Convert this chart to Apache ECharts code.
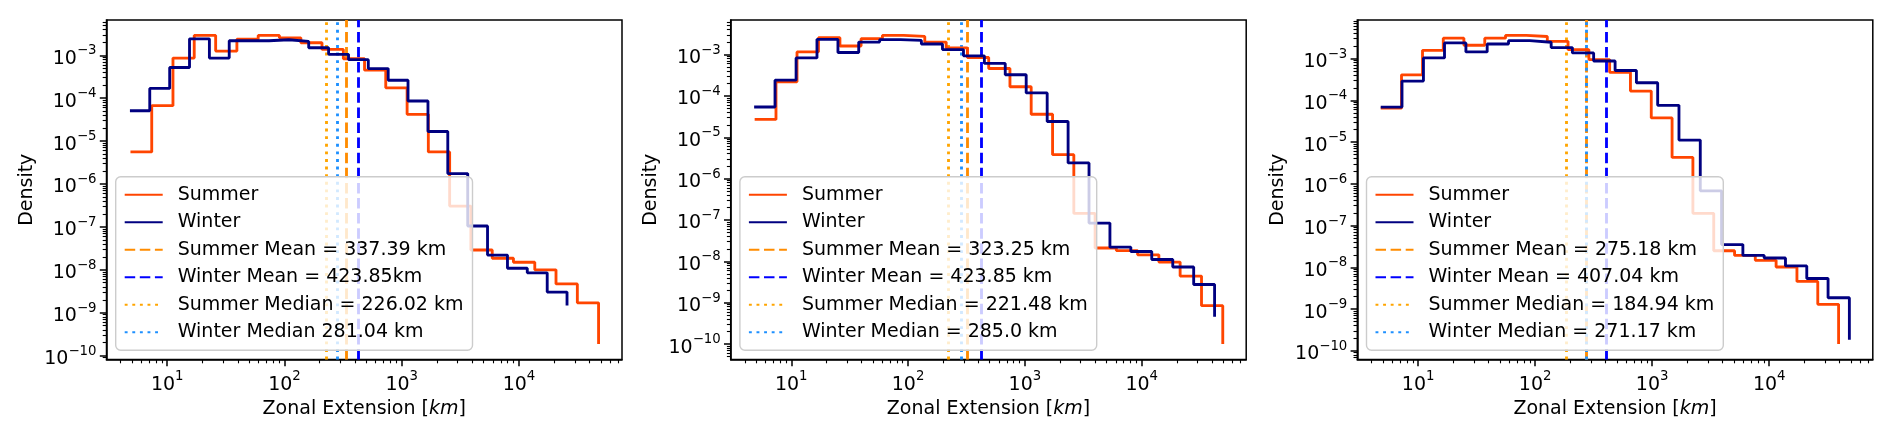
<!DOCTYPE html>
<html>
<head>
<meta charset="utf-8">
<script src="https://cdn.jsdelivr.net/npm/echarts@6/dist/echarts.min.js"></script>
<style>
    html, body { margin: 0; padding: 0; background: #fff; }
    #chart { width: 1892px; height: 438px; }
</style>
</head>
<body>
<div id="chart"></div>
<script>
// bin edges in km, one more than the densities
var p1SummerEdges = [4.86, 7.38, 11.2, 17.0, 25.9, 39.3, 59.7, 90.6, 138, 209, 318, 482, 731, 1112, 1687, 2564, 3890, 5916, 8974, 13646, 20701, 31477, 47753];
var p1WinterEdges = [4.81, 7.10, 10.5, 15.5, 22.9, 33.8, 50.0, 73.8, 109, 161, 238, 352, 519, 767, 1132, 1675, 2472, 3656, 5395, 7980, 11776, 17418, 25704];
var p2SummerEdges = [4.86, 7.40, 11.2, 17.1, 26.1, 39.6, 60.3, 91.6, 139, 212, 322, 490, 745, 1132, 1726, 2624, 3990, 6067, 9226, 14028, 21330, 32509, 49431];
var p2WinterEdges = [4.81, 7.26, 11.0, 16.6, 25.1, 37.8, 57.1, 86.3, 130, 197, 298, 450, 679, 1026, 1552, 2344, 3540, 5346, 8072, 12190, 18450, 27861, 42073];
var p3SummerEdges = [4.79, 7.21, 10.9, 16.4, 24.6, 37.1, 55.8, 84.1, 127, 191, 288, 433, 652, 982, 1479, 2228, 3357, 5058, 7603, 11455, 17258, 26002, 39174];
var p3WinterEdges = [4.79, 7.28, 11.1, 16.8, 25.6, 38.9, 59.2, 89.9, 137, 208, 316, 482, 733, 1114, 1694, 2576, 3917, 5957, 9057, 13772, 20941, 31842, 48417];

// density per bin
var p1SummerDensity = [5.6e-6, 6.7e-5, 8.6e-4, 2.9e-3, 1.25e-3, 2.37e-3, 2.9e-3, 2.55e-3, 1.96e-3, 1.37e-3, 8.3e-4, 4.5e-4, 1.74e-4, 4.2e-5, 5.6e-6, 3.06e-7, 2.9e-8, 1.86e-8, 1.5e-8, 1.0e-8, 4.7e-9, 1.7e-9];
var p1WinterDensity = [5.1e-5, 1.69e-4, 5.2e-4, 2.42e-3, 8.6e-4, 2.18e-3, 2.18e-3, 2.3e-3, 2.1e-3, 1.5e-3, 1.05e-3, 7.9e-4, 4.9e-4, 2.62e-4, 8.6e-5, 1.67e-5, 1.75e-6, 1.05e-7, 2.2e-8, 1.09e-8, 8.5e-9, 3.03e-9];
var p2SummerDensity = [2.7e-5, 2.2e-4, 1.16e-3, 2.56e-3, 1.61e-3, 2.42e-3, 2.9e-3, 2.75e-3, 2.0e-3, 1.45e-3, 8.5e-4, 4.6e-4, 1.67e-4, 3.6e-5, 3.8e-6, 1.44e-7, 2.1e-8, 1.82e-8, 1.44e-8, 9.6e-9, 4.4e-9, 8.5e-10];
var p2WinterDensity = [5.4e-5, 2.4e-4, 8.3e-4, 2.33e-3, 1.12e-3, 2.0e-3, 2.29e-3, 2.2e-3, 1.8e-3, 1.32e-3, 9.3e-4, 6.1e-4, 3.25e-4, 1.18e-4, 2.4e-5, 2.4e-6, 8.4e-8, 2.2e-8, 1.73e-8, 1.11e-8, 7.3e-9, 2.75e-9];
var p3SummerDensity = [6.5e-5, 4.1e-4, 1.58e-3, 3.1e-3, 2.1e-3, 3.1e-3, 3.6e-3, 3.4e-3, 2.6e-3, 1.64e-3, 9.5e-4, 4.7e-4, 1.67e-4, 3.8e-5, 4.3e-6, 1.97e-7, 2.5e-8, 1.93e-8, 1.47e-8, 1.02e-8, 4.6e-9, 1.3e-9];
var p3WinterDensity = [6.9e-5, 2.9e-4, 1.04e-3, 2.38e-3, 1.45e-3, 2.25e-3, 2.7e-3, 2.47e-3, 1.84e-3, 1.37e-3, 8.8e-4, 5.2e-4, 2.65e-4, 7.6e-5, 1.12e-5, 6.8e-7, 3.5e-8, 1.93e-8, 1.67e-8, 1.08e-8, 5.4e-9, 1.87e-9];

// where the outline drops at the last edge
var p1Tails = [1.86e-10, 1.48e-9];
var p2Tails = [1.0e-10, 4.6e-10];
var p3Tails = [1.45e-10, 1.83e-10];

// summer mean, winter mean, summer median, winter median (km)
var p1Stats = [337.39, 423.85, 226.02, 281.04];
var p2Stats = [323.25, 423.85, 221.48, 285.0];
var p3Stats = [275.18, 407.04, 184.94, 271.17];

var p1StatLabels = ['Summer Mean = 337.39 km', 'Winter Mean = 423.85km', 'Summer Median = 226.02 km', 'Winter Median 281.04 km'];
var p2StatLabels = ['Summer Mean = 323.25 km', 'Winter Mean = 423.85 km', 'Summer Median = 221.48 km', 'Winter Median = 285.0 km'];
var p3StatLabels = ['Summer Mean = 275.18 km', 'Winter Mean = 407.04 km', 'Summer Median = 184.94 km', 'Winter Median = 271.17 km'];

var xTicks = [10, 100, 1000, 10000];
var yTicks = [1e-10, 1e-9, 1e-8, 1e-7, 1e-6, 1e-5, 1e-4, 1e-3];

var FONT = 'DejaVu Sans';
var FS = 19;
var LW = 2.85;
var statColors = ['#ff8c00', '#0000ff', '#ffa500', '#1e90ff'];
var statDash = [[10.5, 4.6], [10.5, 4.6], [2.9, 4.7], [2.9, 4.7]];

var panels = [
    { left: 106.5, edges: [p1SummerEdges, p1WinterEdges], dens: [p1SummerDensity, p1WinterDensity], tails: p1Tails, stats: p1Stats, labels: p1StatLabels },
    { left: 730.7, edges: [p2SummerEdges, p2WinterEdges], dens: [p2SummerDensity, p2WinterDensity], tails: p2Tails, stats: p2Stats, labels: p2StatLabels },
    { left: 1357.3, edges: [p3SummerEdges, p3WinterEdges], dens: [p3SummerDensity, p3WinterDensity], tails: p3Tails, stats: p3Stats, labels: p3StatLabels }
];

function minorTicks(major, lo, hi) {
    var out = [];
    var d = major[0] / 10;
    while (d < hi * 10) {
        for (var k = 2; k <= 9; k++) {
            var v = d * k;
            if (v >= lo && v <= hi) out.push(v);
        }
        d *= 10;
    }
    return out;
}

function logLimits(values) {
    var a = Math.log10(Math.min.apply(null, values));
    var b = Math.log10(Math.max.apply(null, values));
    var m = 0.05 * (b - a);
    return [Math.pow(10, a - m), Math.pow(10, b + m)];
}

function powLabel(v) {
    var e = Math.round(Math.log10(v));
    return '{b|10}{e|' + String(e).replace('-', '\u2212') + '}';
}

var labelRich = {
    b: { fontFamily: FONT, fontSize: FS, color: '#000', lineHeight: 26, verticalAlign: 'bottom' },
    e: { fontFamily: FONT, fontSize: 13.3, color: '#000', lineHeight: 14, verticalAlign: 'bottom', padding: [0, 0, 11, 0] }
};

function stepData(edges, dens, tail) {
    var pts = [];
    for (var i = 0; i < dens.length; i++) pts.push([edges[i], dens[i]]);
    pts.push([edges[edges.length - 1], tail]);
    return pts;
}

function buildOption() {
    var option = {
        animation: false,
        backgroundColor: '#fff',
        grid: [], xAxis: [], yAxis: [], series: [], legend: []
    };

    panels.forEach(function (p, i) {
        var xl = logLimits(p.edges[0].concat(p.edges[1]));
        var yl = logLimits(p.dens[0].concat(p.dens[1], p.tails));

        option.grid.push({
            left: p.left, top: 20, width: 515.5, height: 339.5,
            show: true, borderColor: '#000', borderWidth: 1.5, backgroundColor: 'transparent'
        });

        option.xAxis.push({
            type: 'log', gridIndex: i, position: 'bottom', min: xl[0], max: xl[1],
            name: 'Zonal Extension [{i|km}]', nameLocation: 'middle', nameGap: 37,
            nameTextStyle: { fontFamily: FONT, fontSize: FS, color: '#000', rich: { i: { fontFamily: FONT, fontSize: FS, fontStyle: 'italic', color: '#000' } } },
            axisLine: { show: true, lineStyle: { color: '#000', width: 1.5 } },
            axisTick: { show: true, customValues: xTicks, length: 6.7, lineStyle: { color: '#000', width: 1.5 } },
            axisLabel: { customValues: xTicks, margin: 9, formatter: powLabel, rich: labelRich },
            splitLine: { show: false }
        });
        option.xAxis.push({
            type: 'log', gridIndex: i, position: 'bottom', min: xl[0], max: xl[1],
            axisLine: { show: false },
            axisTick: { show: true, customValues: minorTicks(xTicks, xl[0], xl[1]), length: 3.8, lineStyle: { color: '#000', width: 1.1 } },
            axisLabel: { show: false },
            splitLine: { show: false }
        });

        option.yAxis.push({
            type: 'log', gridIndex: i, position: 'left', min: yl[0], max: yl[1],
            name: 'Density', nameLocation: 'middle', nameGap: 70, nameRotate: 90,
            nameTextStyle: { fontFamily: FONT, fontSize: FS, color: '#000' },
            axisLine: { show: true, lineStyle: { color: '#000', width: 1.5 } },
            axisTick: { show: true, customValues: yTicks, length: 6.7, lineStyle: { color: '#000', width: 1.5 } },
            axisLabel: { customValues: yTicks, margin: 10, formatter: powLabel, rich: labelRich },
            splitLine: { show: false }
        });
        option.yAxis.push({
            type: 'log', gridIndex: i, position: 'left', min: yl[0], max: yl[1],
            axisLine: { show: false },
            axisTick: { show: true, customValues: minorTicks(yTicks, yl[0], yl[1]), length: 3.8, lineStyle: { color: '#000', width: 1.1 } },
            axisLabel: { show: false },
            splitLine: { show: false }
        });

        var names = ['Summer', 'Winter'];
        var colors = ['#ff4500', '#000080'];
        for (var s = 0; s < 2; s++) {
            option.series.push({
                type: 'line', name: names[s], step: 'end',
                xAxisIndex: 2 * i, yAxisIndex: 2 * i,
                data: stepData(p.edges[s], p.dens[s], p.tails[s]),
                symbol: 'none', showSymbol: false,
                lineStyle: { color: colors[s], width: LW },
                itemStyle: { color: colors[s] },
                emphasis: { disabled: true }
            });
        }

        for (var k = 0; k < 4; k++) {
            var ls = { color: statColors[k], width: LW, type: statDash[k] };
            option.series.push({
                type: 'line', name: p.labels[k],
                xAxisIndex: 2 * i, yAxisIndex: 2 * i,
                data: [], symbol: 'none', showSymbol: false,
                lineStyle: ls, itemStyle: { color: statColors[k] },
                markLine: {
                    silent: true, symbol: 'none', animation: false, z: 3,
                    label: { show: false },
                    lineStyle: ls,
                    data: [{ xAxis: p.stats[k] }]
                }
            });
        }

        option.legend.push({
            orient: 'vertical', left: p.left + 9.2, top: 176.7, z: 10,
            data: names.concat(p.labels),
            itemWidth: 38, itemHeight: 14, itemGap: 7.5,
            padding: [8, 9, 8, 8],
            backgroundColor: 'rgba(255,255,255,0.8)',
            borderColor: '#cccccc', borderWidth: 1.4, borderRadius: 5,
            selectedMode: false,
            itemStyle: { opacity: 0 },
            textStyle: { fontFamily: FONT, fontSize: FS, color: '#000', lineHeight: 20, padding: [0, 0, 0, 10] }
        });
    });

    return option;
}

var chart = echarts.init(document.getElementById('chart'));
chart.setOption(buildOption());
</script>
</body>
</html>
